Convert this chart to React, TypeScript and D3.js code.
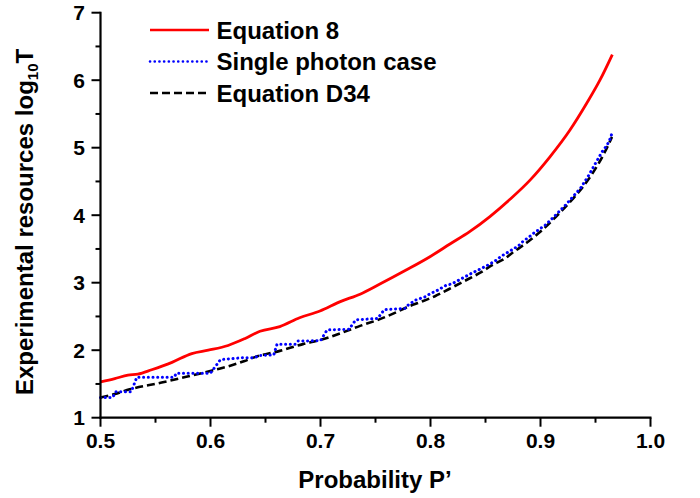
import React from "react";
import * as d3 from "d3";

const xTicks = [0.5, 0.6, 0.7, 0.8, 0.9, 1.0];
const xTickLabels = ["0.5", "0.6", "0.7", "0.8", "0.9", "1.0"];
const xMinor = [0.55, 0.65, 0.75, 0.85, 0.95];
const yTicks = [1, 2, 3, 4, 5, 6, 7];
const yMinor = [1.5, 2.5, 3.5, 4.5, 5.5, 6.5];

const seriesNames = ["Equation 8", "Single photon case", "Equation D34"];

const eq8P = [0.5, 0.513, 0.525, 0.534, 0.5465, 0.565, 0.583, 0.598, 0.616, 0.631, 0.645, 0.663, 0.681, 0.6995, 0.718, 0.736, 0.754, 0.777, 0.7995, 0.8177, 0.8359, 0.854, 0.8723, 0.8905, 0.9086, 0.9268, 0.942, 0.954, 0.9653];
const eq8V = [1.53, 1.58, 1.63, 1.645, 1.71, 1.82, 1.95, 2.0, 2.07, 2.17, 2.28, 2.35, 2.48, 2.58, 2.72, 2.83, 2.98, 3.18, 3.385, 3.573, 3.76, 3.98, 4.236, 4.52, 4.865, 5.262, 5.658, 6.0, 6.38];

const singleP = [0.5, 0.511, 0.514, 0.528, 0.533, 0.567, 0.569, 0.6, 0.609, 0.63, 0.64, 0.644, 0.6575, 0.6605, 0.677, 0.679, 0.7, 0.706, 0.726, 0.732, 0.752, 0.758, 0.777, 0.7798, 0.786, 0.795, 0.801, 0.804, 0.8147, 0.819, 0.8298, 0.839, 0.8495, 0.8586, 0.8647, 0.8738, 0.8798, 0.8844, 0.8889, 0.8935, 0.9045, 0.9136, 0.9227, 0.932, 0.9364, 0.944, 0.95, 0.956, 0.9606, 0.963, 0.9647];
const singleV = [1.3, 1.3, 1.385, 1.385, 1.6, 1.6, 1.66, 1.66, 1.86, 1.89, 1.89, 1.92, 1.93, 2.09, 2.09, 2.135, 2.14, 2.3, 2.31, 2.45, 2.47, 2.6, 2.62, 2.67, 2.74, 2.79, 2.85, 2.866, 2.966, 2.98, 3.074, 3.154, 3.237, 3.32, 3.396, 3.485, 3.544, 3.618, 3.667, 3.73, 3.855, 4.0, 4.15, 4.32, 4.4, 4.595, 4.77, 4.94, 5.04, 5.12, 5.2];

const d34P = [0.5, 0.513, 0.5265, 0.5556, 0.574, 0.592, 0.604, 0.618, 0.631, 0.639, 0.663, 0.684, 0.6995, 0.718, 0.736, 0.754, 0.763, 0.7798, 0.792, 0.804, 0.822, 0.8344, 0.8465, 0.8556, 0.8677, 0.8768, 0.8889, 0.8995, 0.9102, 0.9207, 0.9298, 0.939, 0.9465, 0.9526, 0.9586, 0.965];
const d34V = [1.3, 1.35, 1.42, 1.52, 1.59, 1.66, 1.71, 1.77, 1.84, 1.89, 1.99, 2.09, 2.15, 2.25, 2.36, 2.46, 2.52, 2.645, 2.72, 2.8, 2.95, 3.055, 3.16, 3.255, 3.36, 3.47, 3.61, 3.75, 3.915, 4.09, 4.25, 4.43, 4.6, 4.76, 4.94, 5.16];

const FONT = "'Liberation Sans', Arial, Helvetica, sans-serif";

export default function App() {
  const x = d3.scaleLinear().domain([0.5, 1.0]).range([100.5, 650.5]);
  const y = d3.scaleLinear().domain([1, 7]).range([417.7, 12.7]);

  const smooth = d3
    .line<[number, number]>()
    .x((d) => x(d[0]))
    .y((d) => y(d[1]))
    .curve(d3.curveMonotoneX);
  const linear = d3
    .line<[number, number]>()
    .x((d) => x(d[0]))
    .y((d) => y(d[1]));

  const eq8 = eq8P.map((p, i) => [p, eq8V[i]] as [number, number]);
  const single = singleP.map((p, i) => [p, singleV[i]] as [number, number]);
  const d34 = d34P.map((p, i) => [p, d34V[i]] as [number, number]);

  const x0 = x(0.5);
  const yb = y(1);

  const legend = [
    { name: seriesNames[0], color: "#ff0000", dash: undefined as string | undefined, cap: "butt" },
    { name: seriesNames[1], color: "#0000ff", dash: "0.1 4.6", cap: "round" },
    { name: seriesNames[2], color: "#000000", dash: "8 4", cap: "butt" },
  ];
  const legendY = [30, 61.5, 93];

  return (
    <svg
      width={700}
      height={498}
      style={{ position: "absolute", left: 0, top: 0, background: "#fff" }}
      fontFamily={FONT}
      fontWeight="bold"
    >
      <rect width={700} height={498} fill="#fff" />
      {/* data */}
      <path d={smooth(d34) || ""} fill="none" stroke="#000" strokeWidth={2.6} strokeDasharray="8 4" />
      <path d={linear(single) || ""} fill="none" stroke="#0000ff" strokeWidth={3} strokeDasharray="0.1 4.6" strokeLinecap="round" />
      <path d={smooth(eq8) || ""} fill="none" stroke="#ff0000" strokeWidth={2.8} />

      {/* axes */}
      <line x1={x0} x2={x0} y1={y(7) - 1} y2={yb + 1} stroke="#000" strokeWidth={2.2} />
      <line x1={x0 - 1} x2={x(1.0) + 1} y1={yb} y2={yb} stroke="#000" strokeWidth={2.2} />
      {xTicks.map((t, i) => (
        <g key={"xt" + i}>
          <line x1={x(t)} x2={x(t)} y1={yb} y2={yb + 9} stroke="#000" strokeWidth={2} />
          <text x={x(t)} y={448} textAnchor="middle" fontSize={21}>
            {xTickLabels[i]}
          </text>
        </g>
      ))}
      {xMinor.map((t, i) => (
        <line key={"xm" + i} x1={x(t)} x2={x(t)} y1={yb} y2={yb + 5} stroke="#000" strokeWidth={2} />
      ))}
      {yTicks.map((t, i) => (
        <g key={"yt" + i}>
          <line x1={x0 - 9} x2={x0} y1={y(t)} y2={y(t)} stroke="#000" strokeWidth={2} />
          <text x={85} y={y(t) + 7.5} textAnchor="end" fontSize={21}>
            {String(t)}
          </text>
        </g>
      ))}
      {yMinor.map((t, i) => (
        <line key={"ym" + i} x1={x0 - 5} x2={x0} y1={y(t)} y2={y(t)} stroke="#000" strokeWidth={2} />
      ))}

      {/* axis titles */}
      <text x={375} y={488} textAnchor="middle" fontSize={24}>
        Probability P’
      </text>
      <text transform="translate(33,395) rotate(-90)" fontSize={24}>
        Experimental resources log
        <tspan fontSize={15} dy={5}>10</tspan>
        <tspan dy={-5}>T</tspan>
      </text>

      {/* legend */}
      {legend.map((l, i) => (
        <g key={"lg" + i}>
          <line
            x1={150}
            x2={209}
            y1={legendY[i]}
            y2={legendY[i]}
            stroke={l.color}
            strokeWidth={2.6}
            strokeDasharray={l.dash}
            strokeLinecap={l.cap as any}
          />
          <text x={216.5} y={legendY[i] + 8.5} fontSize={24}>
            {l.name}
          </text>
        </g>
      ))}
    </svg>
  );
}
